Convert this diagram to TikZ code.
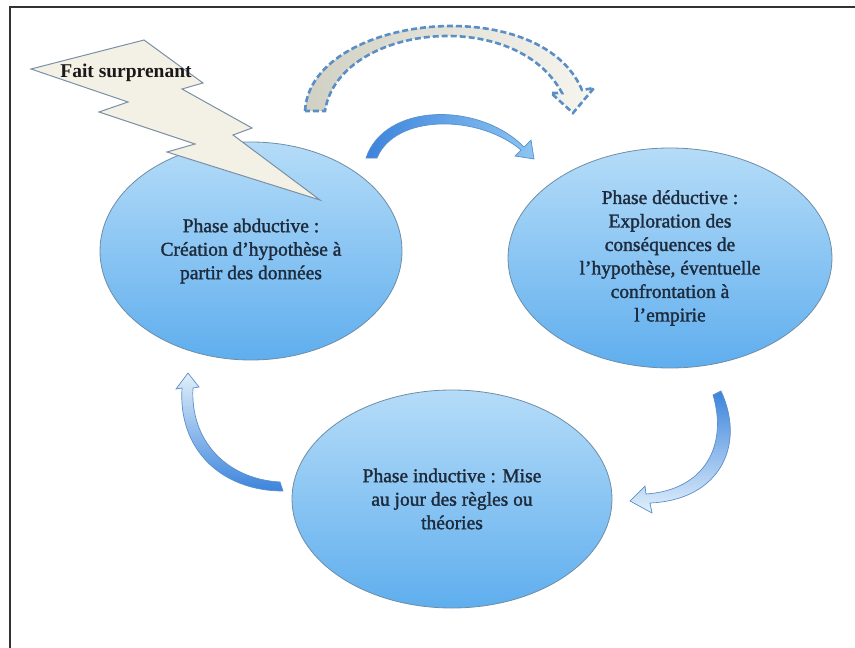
\documentclass[tikz,border=0pt]{standalone}
\usepackage{fontspec}
\setmainfont{Liberation Serif}
\newfontface\phasefont[FakeBold=1.6]{Liberation Serif}
\usepackage{xcolor}
\usepackage{tikz}
\usetikzlibrary{shapes.geometric}

\definecolor{phasetop}{HTML}{B5DCF8}
\definecolor{phasebot}{HTML}{5FAEEE}
\definecolor{phaseline}{HTML}{6E8DA6}
\definecolor{phasetext}{HTML}{1E2B3C}
\definecolor{boltfill}{HTML}{F3F1E5}
\definecolor{boltline}{HTML}{7B90A4}
\definecolor{arrowdark}{HTML}{3C84DC}
\definecolor{arrowlight}{HTML}{8CC5F2}
\definecolor{arrowpale}{HTML}{E2F0FB}
\definecolor{arrowline}{HTML}{5B8FC9}
\definecolor{dashline}{HTML}{5A8EC6}
\definecolor{dashfill}{HTML}{D0D0C4}
\definecolor{dashpale}{HTML}{F6F6EF}

\begin{document}
\begin{tikzpicture}[x=1pt,y=-1pt,
    phase/.style={ellipse,draw=phaseline,line width=0.8pt,top color=phasetop,bottom color=phasebot,
      inner sep=0pt,align=center,text=phasetext,font=\phasefont\fontsize{19.5}{23.5}\selectfont},
    ribbon/.style={draw=arrowline,line width=0.7pt},
    dashribbon/.style={draw=dashline,line width=2.6pt,dash pattern=on 6pt off 3pt},
    bolt/.style={draw=boltline,fill=boltfill,line width=1pt,line join=miter}]
    \useasboundingbox (0,0) rectangle (855,648);
    % Frame
    \draw[line width=1.3pt,black!80] (10,648) -- (10,7) -- (855,7);
    % Draw phases
    \node[phase,minimum width=302pt,minimum height=218pt] (abd) at (251,251)
      {Phase abductive :\\Création d’hypothèse à\\partir des données};
    \node[phase,minimum width=324pt,minimum height=220pt] (ded) at (670,258)
      {Phase déductive :\\Exploration des\\conséquences de\\l’hypothèse, éventuelle\\confrontation à\\l’empirie};
    \node[phase,minimum width=320pt,minimum height=218pt] (ind) at (452,499)
      {Phase inductive : Mise\\au jour des règles ou\\théories};
    % Lightning
    \draw[bolt] (31,69) -- (144,40) -- (203,83) -- (182,89) -- (252,128) -- (233,135) -- (320,200)
      -- (167,152) -- (195,144) -- (99,112) -- (128,102) -- cycle;
    \node[font=\bfseries\fontsize{19.5}{23}\selectfont,text=black!90] (fait) at (126,73) {Fait surprenant};
    % Curved arrows
    \path[dashribbon,left color=dashfill,right color=dashpale]
      (305,111) .. controls (310,15) and (540,-10) .. (582,90)
      -- (594,88) -- (573,113) -- (551,93) -- (562,93)
      .. controls (515,5) and (338,25) .. (325,111) -- cycle;
    \path[ribbon,left color=arrowdark,right color=arrowlight]
      (366,158) .. controls (385,102) and (480,102) .. (524,147)
      -- (531,140) -- (534,159) -- (515,156) -- (521,150)
      .. controls (478,114) and (395,114) .. (377,158) -- cycle;
    \path[ribbon,top color=arrowdark,bottom color=arrowpale]
      (721,391) .. controls (746,445) and (720,500) .. (650,503)
      -- (652,513) -- (630,501) -- (645,486) -- (646,494)
      .. controls (705,490) and (728,445) .. (713,395) -- cycle;
    \path[ribbon,top color=arrowpale,bottom color=arrowdark]
      (283,491) .. controls (222,491) and (178,450) .. (182,388)
      -- (176,389) -- (188,373) -- (199,387) -- (193,388)
      .. controls (190,440) and (226,479) .. (280,482) -- cycle;
\end{tikzpicture}
\end{document}
